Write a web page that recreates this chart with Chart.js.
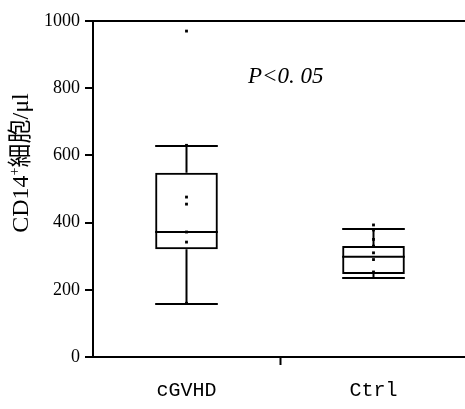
<!DOCTYPE html>
<html>
<head>
<meta charset="utf-8">
<script src="https://cdn.jsdelivr.net/npm/chart.js@4"></script>
<style>
  html, body { margin: 0; padding: 0; background: #fff; overflow: hidden; }
</style>
</head>
<body>
<canvas id="myChart" width="471" height="409"></canvas>
<script>
let ctx = document.getElementById('myChart')

const categories = ['cGVHD', 'Ctrl']
const q1 = [321, 247]
const median = [372, 298]
const q3 = [548, 330]
const whiskerLow = [158, 235]
const whiskerHigh = [628, 381]
const cgvhdPoints = [970, 630, 476, 455, 372, 342, 160]
const ctrlPoints = [393, 378, 350, 330, 310, 290, 253]
const yTicks = [0, 200, 400, 600, 800, 1000]

const points = cgvhdPoints.map(v => ({ x: categories[0], y: v }))
  .concat(ctrlPoints.map(v => ({ x: categories[1], y: v })))

// whiskers + median on top of the floating bars
const boxPlot = {
  id: 'boxPlot',
  beforeDatasetsDraw(chart) {
    const c = chart.ctx
    const y = chart.scales.y
    const meta = chart.getDatasetMeta(0)
    c.save()
    c.strokeStyle = '#000'
    c.lineWidth = 2
    meta.data.forEach((bar, i) => {
      const half = bar.width / 2
      const x = bar.x
      c.beginPath()
      c.moveTo(x - half, y.getPixelForValue(median[i]))
      c.lineTo(x + half, y.getPixelForValue(median[i]))
      c.moveTo(x, y.getPixelForValue(q3[i]))
      c.lineTo(x, y.getPixelForValue(whiskerHigh[i]))
      c.moveTo(x - half, y.getPixelForValue(whiskerHigh[i]))
      c.lineTo(x + half, y.getPixelForValue(whiskerHigh[i]))
      c.moveTo(x, y.getPixelForValue(q1[i]))
      c.lineTo(x, y.getPixelForValue(whiskerLow[i]))
      c.moveTo(x - half, y.getPixelForValue(whiskerLow[i]))
      c.lineTo(x + half, y.getPixelForValue(whiskerLow[i]))
      c.stroke()
    })
    c.restore()
  },
  afterDraw(chart) {
    const c = chart.ctx
    c.save()
    c.fillStyle = '#000'
    // p value
    c.font = 'italic 23px "Liberation Serif"'
    c.textBaseline = 'alphabetic'
    c.textAlign = 'left'
    c.fillText('P<0. 05', 248, 83)
    // y title with superscript +
    c.translate(22, 163)
    c.rotate(-Math.PI / 2)
    c.textBaseline = 'middle'
    const big = '24px "Liberation Serif", "Noto Sans CJK JP"'
    const small = '14px "Liberation Serif"'
    c.font = big
    const w1 = c.measureText('CD14').width
    const w3 = c.measureText('細胞/μl').width
    c.font = small
    const w2 = c.measureText('+').width
    let x0 = -(w1 + w2 + w3) / 2
    c.font = big
    c.fillText('CD14', x0, 0)
    c.font = small
    c.fillText('+', x0 + w1, -7)
    c.font = big
    c.fillText('細胞/μl', x0 + w1 + w2, 0)
    c.restore()
  }
}

let myChart = new Chart(ctx, {
  type: 'bar',
  data: {
    labels: categories,
    datasets: [{
      label: 'box',
      data: categories.map((_, i) => [q1[i], q3[i]]),
      backgroundColor: 'transparent',
      borderColor: '#000',
      borderWidth: 2,
      borderSkipped: false,
      barPercentage: 0.335,
      categoryPercentage: 1,
    }, {
      type: 'line',
      label: 'points',
      data: points,
      showLine: false,
      pointStyle: 'rect',
      pointRadius: 2,
      pointBorderWidth: 0,
      pointBackgroundColor: '#000',
    }]
  },
  options: {
    responsive: false,
    animation: false,
    devicePixelRatio: 1,
    layout: { padding: { left: 10, top: 21, right: 0, bottom: 0 } },
    plugins: { legend: { display: false }, tooltip: { enabled: false } },
    scales: {
      x: {
        afterFit: s => { s.height = 52 },
        border: { display: true, color: '#000', width: 2 },
        grid: {
          offset: true,
          drawOnChartArea: false,
          tickLength: 8,
          tickWidth: 2,
          tickColor: c => c.index === 1 ? '#000' : 'transparent',
        },
        ticks: {
          color: '#000',
          padding: 14,
          font: { family: 'Liberation Mono', size: 20 },
        },
      },
      y: {
        min: 0,
        max: 1000,
        afterFit: s => { s.width = 83 },
        afterBuildTicks: s => { s.ticks = yTicks.map(v => ({ value: v })) },
        border: { display: true, color: '#000', width: 2 },
        grid: {
          color: c => (c.tick && (c.tick.value === 1000)) ? '#000' : 'transparent',
          lineWidth: 2,
          tickColor: '#000',
          tickLength: 8,
          tickWidth: 2,
        },
        ticks: {
          color: '#000',
          padding: 5,
          font: { family: 'Liberation Serif', size: 18 },
          callback: v => String(v),
        },
      }
    }
  },
  plugins: [boxPlot]
})
</script>
</body>
</html>
